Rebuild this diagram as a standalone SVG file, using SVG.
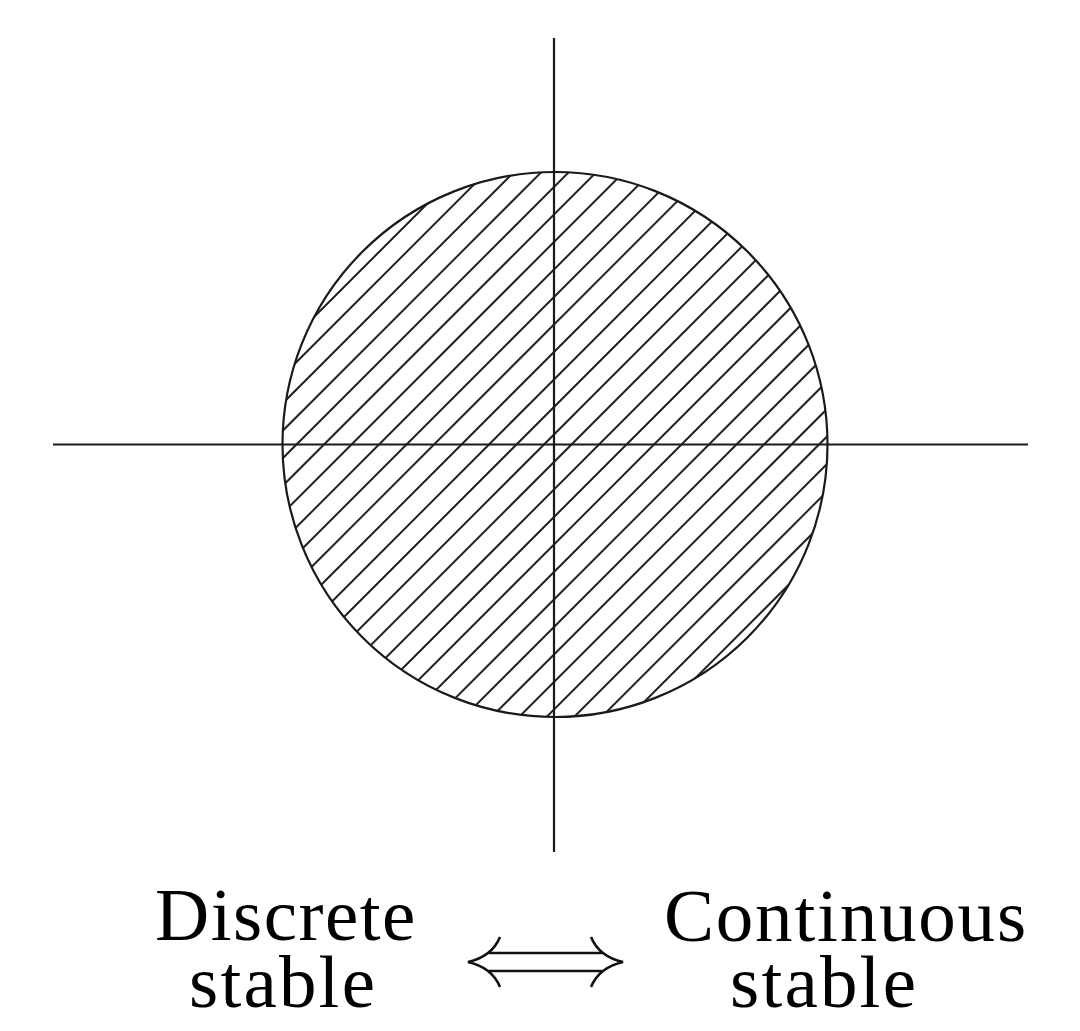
<svg xmlns="http://www.w3.org/2000/svg" width="1080" height="1031" viewBox="0 0 1080 1031">
<style>
.ax{stroke:#1a1a1a;stroke-width:2.2;fill:none}
.hatch{stroke:#222;stroke-width:2;fill:none}
.lbl{font-family:"Liberation Serif","DejaVu Serif",serif;font-size:75px;fill:#000}
.arr{stroke:#111;stroke-width:2.6;fill:none}
</style>
<defs>
<clipPath id="disc"><circle cx="555" cy="444.5" r="272.5"/></clipPath>
</defs>
<rect width="1080" height="1031" fill="#fff"/>
<g id="region">
<g clip-path="url(#disc)" class="hatch">
<path d="M503.5,100L-196.5,800M531,100L-169,800M558.5,100L-141.5,800M586,100L-114,800M613.5,100L-86.5,800M641,100L-59,800M668.5,100L-31.5,800M696,100L-4,800M723.5,100L23.5,800M751,100L51,800M778.5,100L78.5,800M806,100L106,800M833.5,100L133.5,800M861,100L161,800M888.5,100L188.5,800M916,100L216,800M943.5,100L243.5,800M971,100L271,800M998.5,100L298.5,800M1026,100L326,800M1053.5,100L353.5,800M1081,100L381,800M1108.5,100L408.5,800M1136,100L436,800M1163.5,100L463.5,800M1191,100L491,800M1218.5,100L518.5,800M1246,100L546,800M1273.5,100L573.5,800M1301,100L601,800"/>
</g>
<circle cx="555" cy="444.5" r="272.5" class="ax"/>
</g>
<g id="axes">
<line x1="53" y1="444.5" x2="1028" y2="444.5" class="ax"/>
<line x1="554" y1="38" x2="554" y2="852" class="ax"/>
</g>
<g id="left-label">
<text class="lbl"><tspan x="155" y="940" letter-spacing="1.5">Discrete</tspan><tspan x="189" y="1007" letter-spacing="2.2">stable</tspan></text>
</g>
<g id="right-label">
<text class="lbl"><tspan x="664" y="941" letter-spacing="1.8">Continuous</tspan><tspan x="730" y="1007" letter-spacing="2.2">stable</tspan></text>
</g>
<g id="connector" class="arr">
<path d="M489,953H602M489,971H602"/>
<path d="M500,937Q492,956.5 468,962Q492,967.5 500,987"/>
<path d="M591,937Q599,956.5 623,962Q599,967.5 591,987"/>
</g>
</svg>
